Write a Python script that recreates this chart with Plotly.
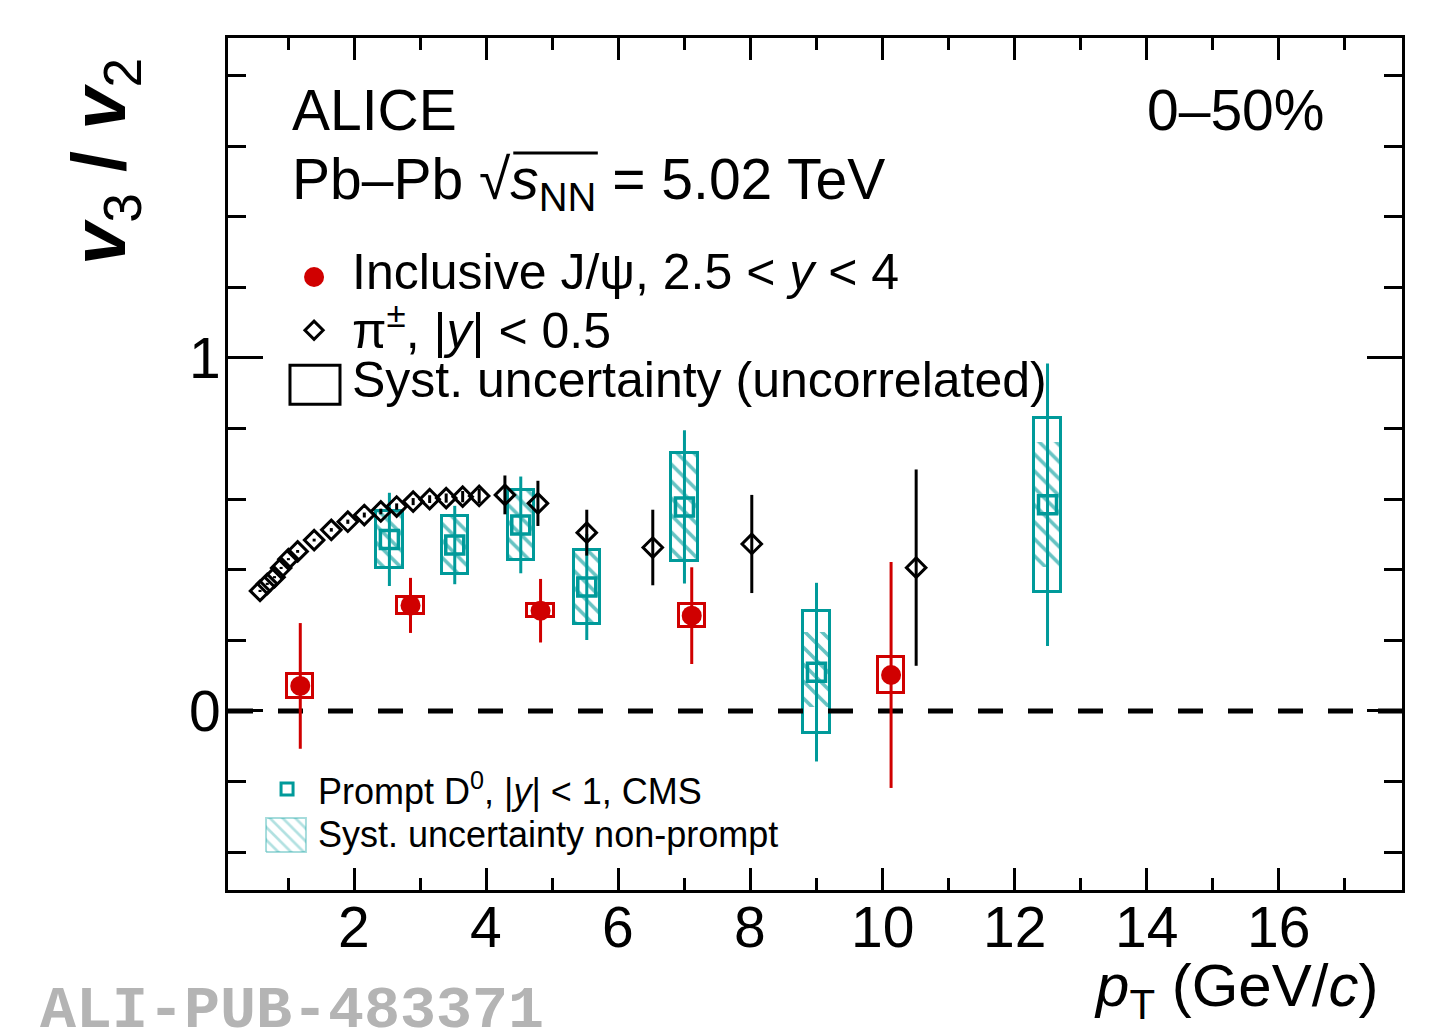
import plotly.graph_objects as go

# ---------------- data ----------------
# Inclusive J/psi, 2.5 < y < 4
jpsi_pt = [1.18, 2.85, 4.82, 7.11, 10.13]
jpsi_v = [0.071, 0.299, 0.284, 0.270, 0.102]
jpsi_stat = [0.178, 0.078, 0.090, 0.137, 0.320]
jpsi_syst = [0.034, 0.023, 0.019, 0.032, 0.050]

# pi+-, |y| < 0.5
pion_pt = [0.57, 0.68, 0.79, 0.89, 1.00, 1.14, 1.39, 1.65, 1.90, 2.15, 2.40, 2.64,
           2.89, 3.14, 3.39, 3.64, 3.89, 4.28, 4.78, 5.52, 6.52, 8.02, 10.51]
pion_v = [0.340, 0.360, 0.379, 0.405, 0.430, 0.452, 0.484, 0.513, 0.536, 0.555, 0.565, 0.579,
          0.593, 0.600, 0.603, 0.607, 0.609, 0.612, 0.588, 0.505, 0.463, 0.473, 0.406]
pion_stat = [0.003, 0.003, 0.003, 0.003, 0.003, 0.004, 0.004, 0.005, 0.006, 0.007, 0.008, 0.009,
             0.010, 0.011, 0.013, 0.016, 0.020, 0.055, 0.064, 0.065, 0.107, 0.139, 0.278]

# Prompt D0, |y| < 1, CMS
d0_pt = [2.53, 3.52, 4.52, 5.52, 7.0, 9.0, 12.5]
d0_v = [0.486, 0.470, 0.527, 0.351, 0.578, 0.110, 0.584]
d0_stat = [0.132, 0.111, 0.137, 0.150, 0.217, 0.253, 0.400]
d0_syst = [0.080, 0.083, 0.100, 0.105, 0.153, 0.173, 0.247]
d0_np_up = [0.078, 0.081, 0.098, 0.103, 0.151, 0.115, 0.179]
d0_np_down = [0.078, 0.081, 0.098, 0.103, 0.151, 0.098, 0.175]

x_ticks = [2, 4, 6, 8, 10, 12, 14, 16]
y_ticks = [0, 1]

# ---------------- styles ----------------
RED = "#d00000"
TEAL = "#009a9a"
HATCH = "rgba(0,154,154,0.6)"
FONT = "Liberation Sans"
BOXW = 0.40
XR = [0.085, 17.87]
YR = [-0.507, 1.906]

fig = go.Figure()

# D0 non-prompt syst (hatched)
fig.add_trace(go.Bar(
    x=d0_pt, y=[u + d for u, d in zip(d0_np_up, d0_np_down)],
    base=[v - d for v, d in zip(d0_v, d0_np_down)], width=[BOXW] * len(d0_pt),
    marker=dict(color="rgba(0,0,0,0)", line=dict(width=0),
                pattern=dict(shape="\\", fgcolor=HATCH, bgcolor="rgba(0,0,0,0)",
                             fillmode="replace", size=12, solidity=0.3)),
    showlegend=False, hoverinfo="skip"))
# D0 uncorrelated syst boxes
fig.add_trace(go.Bar(
    x=d0_pt, y=[2 * s for s in d0_syst], base=[v - s for v, s in zip(d0_v, d0_syst)],
    width=[BOXW] * len(d0_pt),
    marker=dict(color="rgba(0,0,0,0)", line=dict(color=TEAL, width=3)),
    showlegend=False, hoverinfo="skip"))
# D0 points
fig.add_trace(go.Scatter(
    x=d0_pt, y=d0_v, mode="markers",
    marker=dict(symbol="square-open", size=18, color=TEAL, line=dict(color=TEAL, width=3.5)),
    error_y=dict(type="data", array=d0_stat, color=TEAL, thickness=3, width=0),
    showlegend=False))
# J/psi syst boxes
fig.add_trace(go.Bar(
    x=jpsi_pt, y=[2 * s for s in jpsi_syst], base=[v - s for v, s in zip(jpsi_v, jpsi_syst)],
    width=[BOXW] * len(jpsi_pt),
    marker=dict(color="rgba(0,0,0,0)", line=dict(color=RED, width=3)),
    showlegend=False, hoverinfo="skip"))
# zero line
fig.add_trace(go.Scatter(
    x=XR, y=[0, 0], mode="lines",
    line=dict(color="black", width=5, dash="25px,25px"),
    showlegend=False, hoverinfo="skip"))
# J/psi points
fig.add_trace(go.Scatter(
    x=jpsi_pt, y=jpsi_v, mode="markers",
    marker=dict(symbol="circle", size=20, color=RED),
    error_y=dict(type="data", array=jpsi_stat, color=RED, thickness=3, width=0),
    showlegend=False))
# pions
fig.add_trace(go.Scatter(
    x=pion_pt, y=pion_v, mode="markers",
    marker=dict(symbol="diamond-open", size=15, color="black", line=dict(color="black", width=3)),
    error_y=dict(type="data", array=pion_stat, color="black", thickness=3, width=0),
    showlegend=False))

# ---------------- legend glyphs (overlay axes 0..1) ----------------
fig.add_trace(go.Scatter(x=[0.0733], y=[0.7195], xaxis="x2", yaxis="y2", mode="markers",
                         marker=dict(symbol="circle", size=20, color=RED), showlegend=False))
fig.add_trace(go.Scatter(x=[0.0733], y=[0.657], xaxis="x2", yaxis="y2", mode="markers",
                         marker=dict(symbol="diamond-open", size=14, color="black",
                                     line=dict(color="black", width=3)), showlegend=False))
fig.add_trace(go.Scatter(x=[0.0503], y=[0.1185], xaxis="x2", yaxis="y2", mode="markers",
                         marker=dict(symbol="square-open", size=12, color=TEAL,
                                     line=dict(color=TEAL, width=3)), showlegend=False))
fig.add_trace(go.Scatter(x=[0.0324, 0.0664, 0.0664, 0.0324, 0.0324],
                         y=[0.0446, 0.0446, 0.0845, 0.0845, 0.0446],
                         xaxis="x2", yaxis="y2", mode="lines", fill="toself",
                         fillcolor="rgba(0,0,0,0)",
                         fillpattern=dict(shape="\\", fgcolor=HATCH, bgcolor="rgba(0,0,0,0)",
                                          size=9, solidity=0.3),
                         line=dict(color="rgba(0,154,154,0.35)", width=2), showlegend=False))

shapes = [
    dict(type="rect", xref="paper", yref="paper", x0=0.0528, x1=0.0954, y0=0.570, y1=0.616,
         line=dict(color="black", width=3), fillcolor="rgba(0,0,0,0)"),
    dict(type="line", xref="paper", yref="paper", x0=0.243, x1=0.315, y0=0.865, y1=0.865,
         line=dict(color="black", width=3)),
]

def ann(text, x, y, size, xanchor="left", yanchor="middle", xref="paper", yref="paper", **kw):
    d = dict(text=text, x=x, y=y, xref=xref, yref=yref, showarrow=False,
             xanchor=xanchor, yanchor=yanchor, font=dict(family=FONT, size=size, color="black"))
    d.update(kw)
    return d

annotations = [
    ann("ALICE", 0.0528, 0.9155, 57),
    ann("0–50%", 0.936, 0.9155, 57, xanchor="right"),
    ann("Pb–Pb √<i>s</i><sub>NN</sub> = 5.02 TeV", 0.0528, 0.830, 57),
    ann("Inclusive J/ψ, 2.5 < <i>y</i> < 4", 0.104, 0.725, 50),
    ann("π<sup>±</sup>, |<i>y</i>| < 0.5", 0.104, 0.661, 50),
    ann("Syst. uncertainty (uncorrelated)", 0.104, 0.599, 50),
    ann("Prompt D<sup>0</sup>, |<i>y</i>| < 1, CMS", 0.075, 0.1185, 36),
    ann("Syst. uncertainty non-prompt", 0.075, 0.0646, 36),
    ann("<b><i>v</i></b><sub>3</sub><b> / </b><b><i>v</i></b><sub>2</sub>", -0.106, 0.855, 76,
        xanchor="center", textangle=-90),
    ann("<i>p</i><sub>T</sub> (GeV/<i>c</i>)", 0.981, -0.117, 60, xanchor="right"),
    dict(text="<b>ALI-PUB-483371</b>", x=-0.162, y=-0.142, xref="paper", yref="paper",
         showarrow=False, xanchor="left", yanchor="middle",
         font=dict(family="Liberation Mono", size=60, color="#b4b4b4")),
]
# tick labels
for t in x_ticks:
    annotations.append(ann(str(t), t, -0.043, 57, xanchor="center", xref="x"))
for t in y_ticks:
    annotations.append(ann(str(t), -0.004, t, 57, xanchor="right", yref="y"))

fig.update_layout(
    width=1452, height=1034,
    margin=dict(l=220, r=58, t=30, b=152),
    plot_bgcolor="white", paper_bgcolor="white",
    barmode="overlay", bargap=0,
    showlegend=False,
    font=dict(family=FONT, color="black"),
    shapes=shapes, annotations=annotations,
    xaxis=dict(range=XR, tickmode="array", tickvals=x_ticks, showticklabels=False,
               ticks="inside", ticklen=22, tickwidth=3, tickcolor="black",
               minor=dict(ticks="inside", ticklen=12, tickwidth=3, tickcolor="black", dtick=1, tick0=0),
               showline=True, linewidth=3, linecolor="black", mirror="allticks",
               showgrid=False, zeroline=False),
    yaxis=dict(range=YR, tickmode="array", tickvals=y_ticks, showticklabels=False,
               ticks="inside", ticklen=35, tickwidth=3, tickcolor="black",
               minor=dict(ticks="inside", ticklen=18, tickwidth=3, tickcolor="black", dtick=0.2, tick0=0),
               showline=True, linewidth=3, linecolor="black", mirror="allticks",
               showgrid=False, zeroline=False),
    xaxis2=dict(overlaying="x", range=[0, 1], visible=False),
    yaxis2=dict(overlaying="y", range=[0, 1], visible=False),
)

fig.write_html("out.html")
